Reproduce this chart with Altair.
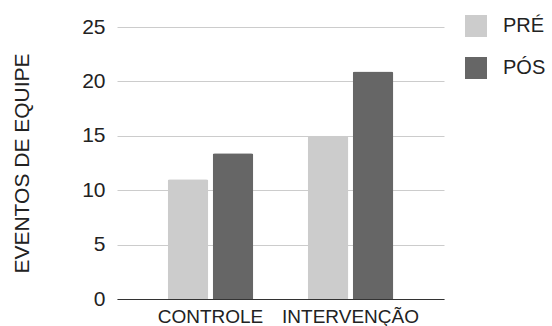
import altair as alt
import pandas as pd

categories = ["CONTROLE", "CONTROLE", "INTERVENÇÃO", "INTERVENÇÃO"]
series = ["PRÉ", "PÓS", "PRÉ", "PÓS"]
values = [11.0, 13.4, 15.0, 20.9]
series_order = ["PRÉ", "PÓS"]
series_colors = ["#cccccc", "#666666"]
y_ticks = [0, 5, 10, 15, 20, 25]

df = pd.DataFrame({"grupo": categories, "fase": series, "valor": values})

FONT = "Liberation Sans"

chart = alt.Chart(df).mark_bar(
    cornerRadiusTopLeft=2, cornerRadiusTopRight=2
).encode(
    x=alt.X(
        "grupo:N",
        sort=["CONTROLE", "INTERVENÇÃO"],
        scale=alt.Scale(paddingInner=0.389, paddingOuter=0.362),
        axis=alt.Axis(
            title=None, labelAngle=0, ticks=False, labelPadding=8, grid=False,
            domainColor="#333333", domainWidth=1.2,
            labelFontSize=19, labelColor="#222222", labelFont=FONT,
        ),
    ),
    xOffset=alt.XOffset(
        "fase:N", sort=series_order,
        scale=alt.Scale(paddingInner=0.098, paddingOuter=0),
    ),
    y=alt.Y(
        "valor:Q",
        scale=alt.Scale(domain=[0, 25], nice=False),
        axis=alt.Axis(
            title="EVENTOS DE EQUIPE", values=y_ticks, ticks=False, domain=False,
            labelPadding=12, labelFontSize=21, labelColor="#222222", labelFont=FONT,
            gridColor="#cccccc", gridWidth=1,
            titleFontSize=21, titleFontWeight="normal", titleColor="#222222",
            titleFont=FONT, titleAngle=270, titleBaseline="alphabetic",
            titleX=-89, titleY=136,
        ),
    ),
    color=alt.Color(
        "fase:N",
        sort=series_order,
        scale=alt.Scale(domain=series_order, range=series_colors),
        legend=alt.Legend(
            title=None, orient="none", legendX=348, legendY=-12,
            symbolType="square", symbolSize=484, symbolStrokeWidth=0,
            labelFontSize=20, labelColor="#222222", labelFont=FONT,
            labelOffset=16, rowPadding=20, padding=0,
        ),
    ),
).properties(
    width=327, height=272,
    background="white",
    padding={"left": 117, "top": 27, "right": 108, "bottom": 27},
    autosize=alt.AutoSizeParams(type="none"),
).configure_view(stroke=None)

chart.save("out.html", embed_options={"renderer": "svg", "actions": False})
